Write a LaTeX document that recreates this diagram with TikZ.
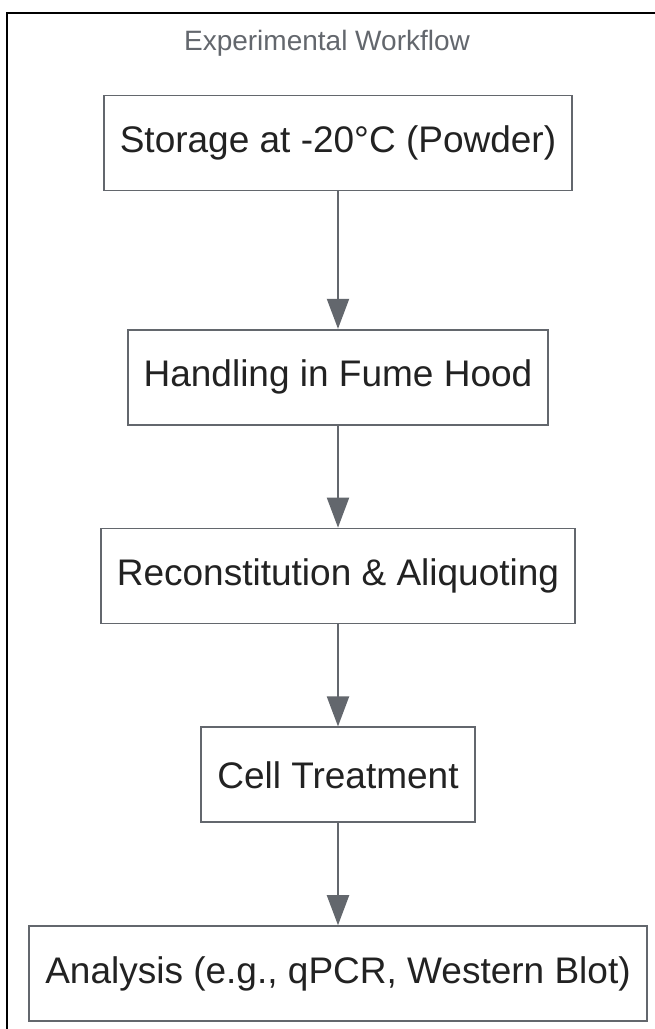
\documentclass[tikz,border=0pt]{standalone}
\usepackage{fontspec}
\setmainfont{Liberation Sans}
\usetikzlibrary{matrix,arrows.meta}
\definecolor{flowgray}{RGB}{99,103,109}
\definecolor{inkgray}{RGB}{34,34,34}
\tikzset{
  stepbox/.style={draw=flowgray, line width=1.8pt, fill=white, text=inkgray,
    font=\fontsize{37}{44}\selectfont, inner xsep=16pt, minimum height=95pt},
  flow/.style={draw=flowgray, line width=2pt, -{Triangle[length=30pt,width=22pt]}}
}

\begin{document}
\begin{tikzpicture}[x=1pt,y=-1pt]
  \useasboundingbox (0,0) rectangle (654,1029);
  \fill[white] (0,0) rectangle (654,1029);
  % outer frame, cut off at right and bottom
  \draw[line width=2.5pt] (7,1045) -- (7,13) -- (670,13);
  \node[text=flowgray, font=\fontsize{28}{34}\selectfont] (title) at (327,43)
        {Experimental Workflow};
                  \matrix (m)
                        [
                        matrix of nodes,
                        row sep = 102pt,
                        nodes   = stepbox,
                        anchor  = north
                        ] at (338,91)
                        {
                        Storage at -20°C (Powder)           \\[35.5pt]
                        Handling in Fume Hood               \\
                        Reconstitution \& Aliquoting        \\
                        Cell Treatment                      \\
                        Analysis (e.g., qPCR, Western Blot) \\
                        };
                        \path
                        (m-1-1) edge [flow] (m-2-1)
                        (m-2-1) edge [flow] (m-3-1)
                        (m-3-1) edge [flow] (m-4-1)
                        (m-4-1) edge [flow] (m-5-1);
\end{tikzpicture}
\end{document}
